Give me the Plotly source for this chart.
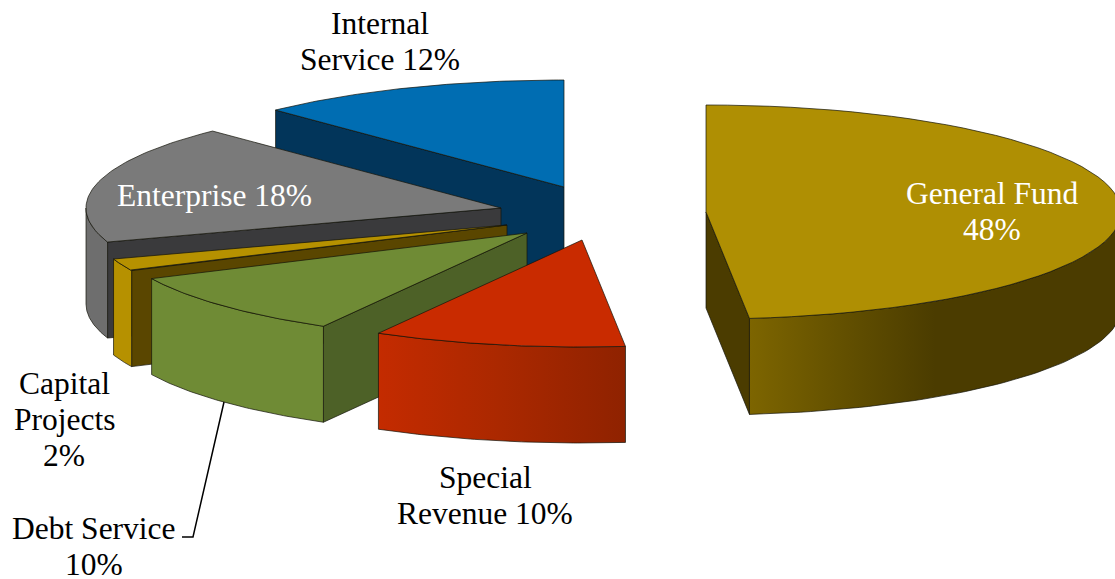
import numpy as np
import plotly.graph_objects as go

# ---- data ----
categories = ["General Fund", "Special Revenue", "Debt Service", "Capital Projects", "Enterprise", "Internal Service"]
shares = [48.33, 9.83, 9.83, 1.86, 17.92, 12.23]   # slice sweep, unrounded
label_pct = [48, 10, 10, 2, 18, 12]

# ---- styles / layout ----
apex_x = [706, 582, 527, 507, 501, 564]
apex_y = [212, 240, 233, 225, 208, 187]
top_colors = ["#AF8F03", "#C92B00", "#6F8B35", "#B69100", "#7A7A7A", "#006DB2"]
cut_colors = ["#4B3C00", "#8C2000", "#4D6127", "#5A4600", "#3A3A3C", "#02355A"]
rim_stops = [
    [[0, "#7D6500"], [0.3, "#5E4C00"], [0.5, "#4B3C00"], [1, "#4B3C00"]],
    [[0, "#C42B00"], [0.5, "#AA2800"], [1, "#8F2200"]],
    [[0, "#6F8B35"], [1, "#6F8B35"]],
    [[0, "#B69100"], [1, "#B69100"]],
    [[0, "#6E6E6E"], [1, "#6E6E6E"]],
    [[0, "#006DB2"], [1, "#006DB2"]],
]
RX, RY, DEPTH = 415, 107, 96
EDGE = "rgba(20,20,10,0.7)"

label_lines = [["General Fund", "48%"], ["Special", "Revenue 10%"], ["Debt Service", "10%"],
               ["Capital", "Projects", "2%"], ["Enterprise 18%"], ["Internal", "Service 12%"]]
label_x = [992, 485, 94, 64, 214, 380]
label_y = [193, 477, 528, 383, 195, 23]
label_color = ["white", "black", "black", "black", "white", "black"]
LINE_GAP = 36
leader_x = [224, 193, 182]
leader_y = [402, 537, 537]


def rim(cx, cy, a0, a1, dz=0.0, n=60):
    t = np.radians(np.linspace(a0, a1, n))
    return cx + RX * np.sin(t), cy - RY * np.cos(t) + dz


def poly(fig, x, y, color=None, gradient=None):
    kw = dict(fillcolor=color) if gradient is None else dict(
        fillgradient=dict(type="horizontal", colorscale=gradient))
    fig.add_trace(go.Scatter(x=list(x) + [x[0]], y=list(y) + [y[0]], mode="lines", fill="toself",
                             line=dict(color=EDGE, width=1), hoverinfo="skip", showlegend=False, **kw))


fig = go.Figure()
ends = np.cumsum(shares) / sum(shares) * 360
starts = np.concatenate([[0], ends[:-1]])

for i in reversed(range(len(categories))):
    cx, cy, a0, a1 = apex_x[i], apex_y[i], starts[i], ends[i]
    # flat cut walls: shown only if they face the viewer
    for ang, normal in ((a0, a0 - 90), (a1, a1 + 90)):
        if np.cos(np.radians(normal)) < -1e-6:
            px, py = rim(cx, cy, ang, ang, n=1)
            poly(fig, [cx, px[0], px[0], cx], [cy, py[0], py[0] + DEPTH, cy + DEPTH], color=cut_colors[i])
    # curved outer wall: only the front half of the ellipse
    lo, hi = max(a0, 90), min(a1, 270)
    if hi > lo:
        tx, ty = rim(cx, cy, lo, hi)
        bx, by = rim(cx, cy, hi, lo, dz=DEPTH)
        poly(fig, np.r_[tx, bx], np.r_[ty, by], gradient=rim_stops[i])
    # top face
    tx, ty = rim(cx, cy, a0, a1)
    poly(fig, np.r_[cx, tx], np.r_[cy, ty], color=top_colors[i])

fig.add_trace(go.Scatter(x=leader_x, y=leader_y, mode="lines", line=dict(color="black", width=1.5),
                         hoverinfo="skip", showlegend=False))

for lines, lx, ly, col in zip(label_lines, label_x, label_y, label_color):
    for k, t in enumerate(lines):
        fig.add_annotation(x=lx, y=ly + k * LINE_GAP, text=t, showarrow=False, xanchor="center",
                           yanchor="middle", font=dict(family="Liberation Serif", size=31.5, color=col))

fig.update_layout(width=1115, height=579, margin=dict(l=0, r=0, t=0, b=0), paper_bgcolor="white",
                  plot_bgcolor="white", showlegend=False,
                  xaxis=dict(range=[0, 1115], visible=False, fixedrange=True),
                  yaxis=dict(range=[579, 0], visible=False, fixedrange=True))
fig.write_html("out.html", post_script="document.body.style.margin='0';", config={"displayModeBar": False})
